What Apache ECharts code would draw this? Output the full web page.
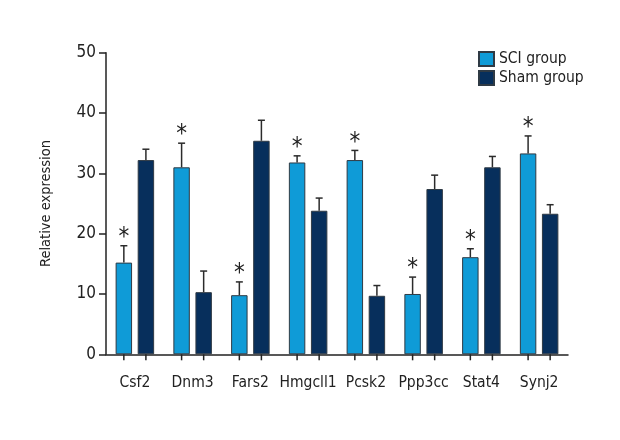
<!DOCTYPE html>
<html>
<head>
<meta charset="utf-8">
<script src="https://cdn.jsdelivr.net/npm/echarts@6/dist/echarts.min.js"></script>
<style>html,body{margin:0;padding:0;background:#fff;}#chart{width:620px;height:440px;}</style>
</head>
<body>
<div id="chart"></div>
<script>
var categories = ['Csf2','Dnm3','Fars2','Hmgcll1','Pcsk2','Ppp3cc','Stat4','Synj2'];
var sciValues  = [15.2, 31.0, 9.8, 31.8, 32.2, 10.0, 16.1, 33.3];
var sciErrors  = [2.8, 4.0, 2.2, 1.1, 1.6, 2.8, 1.4, 2.9];
var shamValues = [32.2, 10.3, 35.4, 23.8, 9.7, 27.4, 31.0, 23.3];
var shamErrors = [1.8, 3.5, 3.4, 2.1, 1.7, 2.3, 1.8, 1.5];
var yTicks = [0, 10, 20, 30, 40, 50];

var FONT = "'DejaVu Sans Condensed', 'Liberation Sans Narrow', sans-serif";
var BAR_W = 0.285, BAR_GAP = 0.34;

function errData(vals, errs) {
  return vals.map(function (v, i) { return [i, v, v + errs[i]]; });
}

function makeErrRender(side, star) {
  return function (params, api) {
    var idx = api.value(0);
    var band = api.size([1, 0])[0];
    var bw = band * BAR_W;
    var off = side * (bw + bw * BAR_GAP) / 2;
    var base = api.coord([idx, api.value(1)]);
    var top = api.coord([idx, api.value(2)]);
    var zero = api.coord([idx, 0]);
    var x = base[0] + off;
    var cap = 3.5;
    var st = { stroke: '#2b2b2b', lineWidth: 1.5 };
    var children = [
      { type: 'line', shape: { x1: x, y1: base[1], x2: x, y2: top[1] }, style: st },
      { type: 'line', shape: { x1: x - cap, y1: top[1], x2: x + cap, y2: top[1] }, style: st },
      { type: 'line', shape: { x1: x, y1: zero[1], x2: x, y2: zero[1] + 6 }, style: { stroke: '#222', lineWidth: 1.5 } }
    ];
    if (star) {
      children.push({
        type: 'text',
        style: { text: '*', x: x, y: top[1] - 8, textAlign: 'center', textVerticalAlign: 'middle',
                 font: '24px ' + FONT, fill: '#222' }
      });
    }
    return { type: 'group', children: children };
  };
}

var chart = echarts.init(document.getElementById('chart'), null, { renderer: 'canvas' });
chart.setOption({
  backgroundColor: '#ffffff',
  animation: false,
  grid: { left: 106, right: 52, top: 52.7, bottom: 85.7, containLabel: false },
  legend: {
    orient: 'vertical', left: 473, top: 46, itemWidth: 15, itemHeight: 14, itemGap: 3,
    icon: 'rect',
    textStyle: { fontFamily: FONT, fontSize: 15.5, color: '#222' },
    data: ['SCI group', 'Sham group']
  },
  xAxis: {
    type: 'category', data: categories,
    axisLine: { lineStyle: { color: '#222', width: 1.5 } },
    axisTick: { show: false },
    axisLabel: { interval: 0, fontFamily: FONT, fontSize: 15.5, color: '#222', margin: 21 }
  },
  yAxis: {
    type: 'value', min: 0, max: 50, interval: 10,
    name: 'Relative expression', nameLocation: 'middle', nameGap: 42, nameRotate: 90,
    nameTextStyle: { fontFamily: FONT, fontSize: 14.5, color: '#222', padding: [0, 0, 10, 0] },
    splitLine: { show: false },
    axisLine: { show: true, lineStyle: { color: '#222', width: 1.5 } },
    axisTick: { show: true, length: 7, lineStyle: { color: '#222', width: 1.5 } },
    axisLabel: { fontFamily: FONT, fontSize: 17, color: '#222', margin: 10,
                 formatter: function (v) { return yTicks.indexOf(v) >= 0 ? String(v) : ''; } }
  },
  series: [
    { name: 'SCI group', type: 'bar', data: sciValues, barWidth: (BAR_W * 100) + '%', barGap: (BAR_GAP * 100) + '%',
      itemStyle: { color: '#0f9bd7', borderColor: '#2f3a44', borderWidth: 1 } },
    { name: 'Sham group', type: 'bar', data: shamValues, barWidth: (BAR_W * 100) + '%',
      itemStyle: { color: '#072f5c', borderColor: '#2f3a44', borderWidth: 1 } },
    { name: 'sciErr', type: 'custom', renderItem: makeErrRender(-1, true), data: errData(sciValues, sciErrors),
      clip: false, z: 5, silent: true, tooltip: { show: false } },
    { name: 'shamErr', type: 'custom', renderItem: makeErrRender(1, false), data: errData(shamValues, shamErrors),
      clip: false, z: 5, silent: true, tooltip: { show: false } }
  ]
});
</script>
</body>
</html>
